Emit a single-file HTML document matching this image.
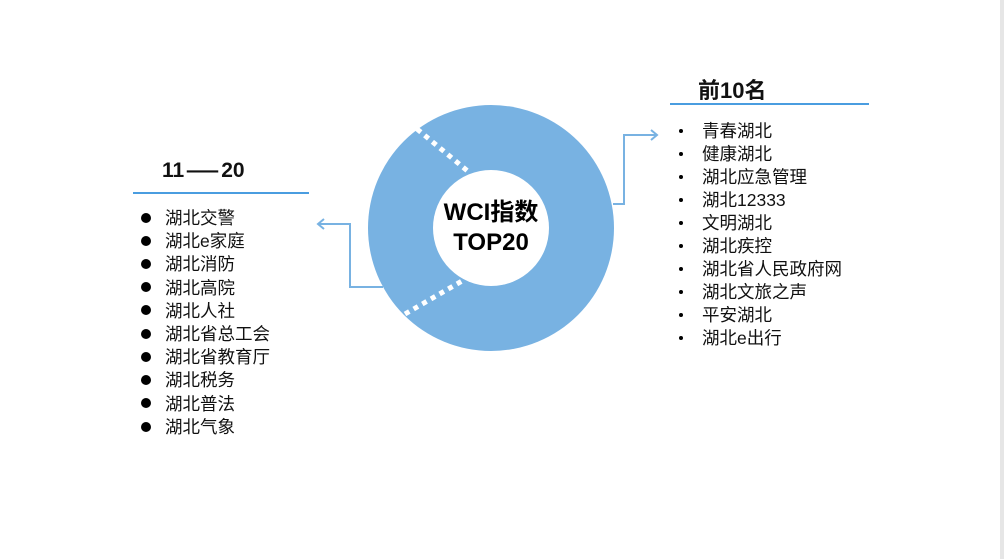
<!DOCTYPE html>
<html><head><meta charset="utf-8"><style>
body{margin:0;width:1004px;height:559px;background:#fff;position:relative;overflow:hidden;font-family:"Liberation Sans","Noto Sans CJK SC",sans-serif;}
.t{position:absolute;font-size:17.5px;color:#111;line-height:23px;white-space:nowrap}
.h{position:absolute;font-size:21px;font-weight:bold;color:#111;white-space:nowrap}
</style></head><body>
<div style="position:absolute;left:1000px;top:0;width:4px;height:559px;background:#e6e6e6"></div>
<svg width="1004" height="559" style="position:absolute;left:0;top:0">
<circle cx="491" cy="228" r="123" fill="#78b2e2"/>
<circle cx="491" cy="228" r="58" fill="#fff"/>
<line x1="417" y1="129" x2="470" y2="173" stroke="#fff" stroke-width="5" stroke-dasharray="5,5"/>
<line x1="405" y1="314" x2="462" y2="281" stroke="#fff" stroke-width="5" stroke-dasharray="5,5"/>
<polyline points="613,204 624,204 624,135 657,135" fill="none" stroke="#78b2e2" stroke-width="2"/>
<polyline points="651,130 657,135 651,140" fill="none" stroke="#78b2e2" stroke-width="2"/>
<polyline points="383,287 350,287 350,224 318,224" fill="none" stroke="#78b2e2" stroke-width="2"/>
<polyline points="324,219 318,224 324,229" fill="none" stroke="#78b2e2" stroke-width="2"/>
<line x1="670" y1="104" x2="869" y2="104" stroke="#4a9de0" stroke-width="2"/>
<line x1="133" y1="193" x2="309" y2="193" stroke="#4a9de0" stroke-width="2"/>
<g fill="#000">
<circle cx="146" cy="218" r="5"/><circle cx="146" cy="241" r="5"/><circle cx="146" cy="264" r="5"/><circle cx="146" cy="287" r="5"/><circle cx="146" cy="310" r="5"/><circle cx="146" cy="334" r="5"/><circle cx="146" cy="357" r="5"/><circle cx="146" cy="380" r="5"/><circle cx="146" cy="403" r="5"/><circle cx="146" cy="427" r="5"/>
<circle cx="681" cy="131" r="2"/><circle cx="681" cy="154" r="2"/><circle cx="681" cy="177" r="2"/><circle cx="681" cy="200" r="2"/><circle cx="681" cy="223" r="2"/><circle cx="681" cy="246" r="2"/><circle cx="681" cy="269" r="2"/><circle cx="681" cy="292" r="2"/><circle cx="681" cy="315" r="2"/><circle cx="681" cy="338" r="2"/>
</g>
</svg>
<div class="h" style="left:698px;top:73px;font-size:22px">前10名</div>
<div class="h" style="left:162px;top:159px;font-size:21px">11<span style="display:inline-block;transform:scaleX(1.5);margin:0 8px">—</span>20</div>
<div style="position:absolute;left:433px;top:198px;width:116px;text-align:center;font-size:24px;font-weight:bold;line-height:30px;color:#000">WCI指数<br>TOP20</div>
<div class="t" style="left:702px;top:120px">青春湖北<br>健康湖北<br>湖北应急管理<br>湖北12333<br>文明湖北<br>湖北疾控<br>湖北省人民政府网<br>湖北文旅之声<br>平安湖北<br>湖北e出行</div>
<div class="t" style="left:165px;top:207px;line-height:23.2px">湖北交警<br>湖北e家庭<br>湖北消防<br>湖北高院<br>湖北人社<br>湖北省总工会<br>湖北省教育厅<br>湖北税务<br>湖北普法<br>湖北气象</div>
</body></html>
